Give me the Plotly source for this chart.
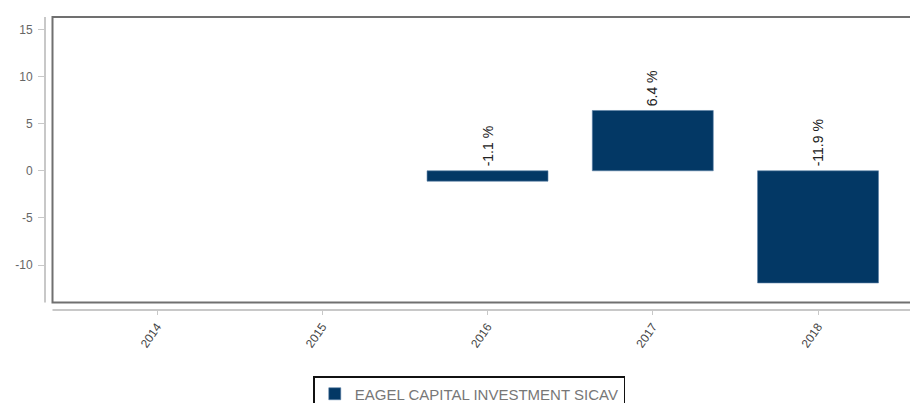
import plotly.graph_objects as go

years = ["2014", "2015", "2016", "2017", "2018"]
returns = [None, None, -1.1, 6.4, -11.9]
labels = ["", "", "-1.1 %", "6.4 %", "-11.9 %"]
series_name = "EAGEL CAPITAL INVESTMENT SICAV"
y_ticks = [-10, -5, 0, 5, 10, 15]
y_tick_text = ["-10", "-5", "0", "5", "10", "15"]

# page has an 8px body margin, so the figure is drawn 8px smaller
W, H = 910, 395
ml, mr, mt, mb = 37, 0, 8.5, 93
plot_w = W - ml - mr
plot_h = H - mt - mb
frame_dx = 7.5 / plot_w
frame_dy = 7.5 / plot_h

bar_color = "#033865"
font = "Liberation Sans, Arial, sans-serif"

fig = go.Figure()
fig.add_trace(go.Bar(
    x=years, y=returns, name=series_name,
    marker=dict(color=bar_color, line=dict(color="#5b7fa6", width=0.6)),
    width=0.732, showlegend=True, hoverinfo="skip",
))

annotations = []
for i, (v, lab) in enumerate(zip(returns, labels)):
    if v is None:
        continue
    annotations.append(dict(
        x=i, y=max(v, 0), xref="x", yref="y", text=lab, showarrow=False,
        textangle=-90, yanchor="bottom", xanchor="center", yshift=2,
        font=dict(family=font, size=14, color="#222222"),
    ))

shapes = [
    dict(type="rect", xref="paper", yref="paper", x0=frame_dx, x1=1.02,
         y0=frame_dy, y1=1, line=dict(color="#707070", width=2), layer="above"),
    dict(type="line", xref="paper", yref="paper", x0=0, x1=0,
         y0=frame_dy, y1=1, line=dict(color="#c8c8c8", width=2)),
    dict(type="line", xref="paper", yref="paper", x0=frame_dx, x1=1,
         y0=0, y1=0, line=dict(color="#c8c8c8", width=2)),
]

fig.update_layout(
    width=W, height=H,
    margin=dict(l=ml, r=mr, t=mt, b=mb, pad=0, autoexpand=False),
    paper_bgcolor="white", plot_bgcolor="white",
    font=dict(family=font, color="#555555"),
    xaxis=dict(
        type="category", range=[-0.678, 4.605], showline=False, showgrid=False,
        zeroline=False, ticks="outside", ticklen=4, tickcolor="#c8c8c8",
        tickwidth=1, tickangle=-55, tickfont=dict(size=12, color="#444444"),
    ),
    yaxis=dict(
        range=[-14.77, 16.32], tickvals=y_ticks, ticktext=y_tick_text,
        showline=False, showgrid=False, ticklabelstandoff=3,
        zeroline=False, ticks="outside", ticklen=6, tickcolor="#c8c8c8",
        tickwidth=1, tickfont=dict(size=12, color="#666666"),
    ),
    legend=dict(
        orientation="h", x=0.486, xanchor="center",
        yref="container", y=1 - (376 - 8) / H, yanchor="top",
        bordercolor="#111111", borderwidth=1.5,
        font=dict(family=font, size=15, color="#777777"),
    ),
    annotations=annotations,
    shapes=shapes,
)

fig.write_html("out.html", config={"displayModeBar": False})
